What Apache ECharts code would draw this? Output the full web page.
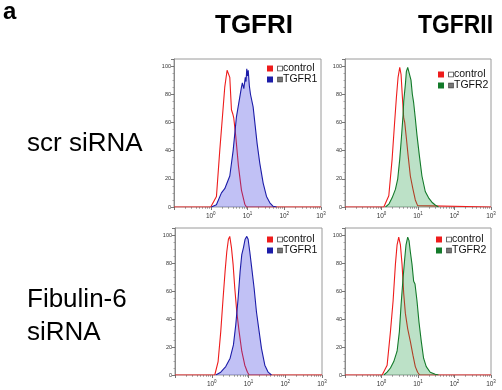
<!DOCTYPE html>
<html><head><meta charset="utf-8">
<script src="https://cdn.jsdelivr.net/npm/echarts@6/dist/echarts.min.js"></script>
<style>html,body{margin:0;padding:0;background:#fff}#c{width:502px;height:390px}</style>
</head><body><div id="c"></div>
<script>
// x values are log10(fluorescence) decades, y values are % of max
const xTickDecades = [-1, 0, 1, 2, 3];
const yTicks = [0, 20, 40, 60, 80, 100];
const columnTitles = ['TGFRI', 'TGFRII'];
const rowTitles = ['scr siRNA', 'Fibulin-6\nsiRNA'];
const sampleNames = ['TGFR1', 'TGFR2'];

const tlControl = [[-1,0],[0.0,0],[0.155,7.5],[0.245,40],[0.318,64],[0.381,85],[0.445,97],[0.472,98],[0.518,92],[0.563,69],[0.600,66],[0.627,63],[0.681,50],[0.754,29],[0.835,12],[0.926,2],[0.972,0],[3,0]];
const tlSample = [[0.018,0],[0.154,1.6],[0.291,10],[0.381,13],[0.518,22],[0.609,40],[0.699,64],[0.790,78],[0.836,85],[0.86,88],[0.90,84],[0.94,92],[0.96,89],[0.98,98],[1.0,93],[1.02,97],[1.05,86],[1.081,80],[1.153,71],[1.199,60],[1.262,45],[1.335,31],[1.426,17],[1.517,7.5],[1.608,3],[1.698,0.5],[1.789,0]];
const trControl = [[-1,0],[0.064,0],[0.200,8],[0.291,34],[0.354,58],[0.409,78],[0.454,92],[0.500,99],[0.536,94],[0.572,78],[0.609,63],[0.636,60],[0.681,49],[0.727,37],[0.790,22],[0.863,12.5],[0.926,5],[0.990,1],[1.026,0],[3,0]];
const trSample = [[0.109,0],[0.200,2],[0.291,6.5],[0.381,12.5],[0.445,20],[0.500,34],[0.545,49],[0.590,65],[0.609,75],[0.654,87],[0.681,96],[0.718,99],[0.772,99],[0.808,90],[0.845,80],[0.881,74],[0.926,63],[0.972,51],[1.035,37],[1.108,22],[1.199,11],[1.290,6.5],[1.381,3.4],[1.471,1.4],[1.562,0]];
const blControl = [[-1,0],[0.082,0],[0.173,9.6],[0.245,31],[0.309,55],[0.363,74],[0.409,88],[0.454,97],[0.490,99],[0.536,91],[0.581,79],[0.627,62],[0.681,45],[0.745,31],[0.817,17],[0.899,7],[0.972,2],[1.017,0],[3,0]];
const blSample = [[0.109,0],[0.245,2],[0.381,6],[0.500,12],[0.590,21.5],[0.654,36],[0.718,55],[0.772,74],[0.817,86],[0.863,91],[0.908,97],[0.954,99],[0.990,97],[1.035,88],[1.090,76],[1.153,62],[1.217,45],[1.290,31],[1.353,19],[1.444,7],[1.535,2],[1.626,0]];
const brControl = [[-1,0],[0.018,0],[0.154,7],[0.245,31],[0.318,53],[0.381,79],[0.427,93],[0.472,98.5],[0.518,93],[0.563,79],[0.609,58],[0.654,44],[0.718,33],[0.790,24],[0.863,14],[0.926,6],[0.990,2],[1.045,0],[3,0]];
const brSample = [[0.064,0],[0.154,2],[0.245,5],[0.336,9.6],[0.427,17],[0.490,31],[0.536,50],[0.590,69],[0.636,83],[0.672,93],[0.718,98.5],[0.754,96],[0.790,88],[0.836,79],[0.881,67],[0.918,65],[0.972,53],[1.026,38],[1.090,24],[1.153,12],[1.226,6],[1.335,2],[1.471,0.5],[1.562,0]];

const panels = [
  {control: tlControl, sample: tlSample, name: sampleNames[0], grid: {left:174, top:59, width:147, height:148}, legend: {left:267, top:63}},
  {control: trControl, sample: trSample, name: sampleNames[1], grid: {left:345, top:59, width:146, height:148}, legend: {left:438, top:69}},
  {control: blControl, sample: blSample, name: sampleNames[0], grid: {left:175, top:228, width:147, height:147}, legend: {left:267, top:234}},
  {control: brControl, sample: brSample, name: sampleNames[1], grid: {left:345, top:228, width:146, height:147}, legend: {left:436, top:234}}
];
const colors = {control:'#ee1c1c', TGFR1:'#1c1ca8', TGFR2:'#137a2a'};
const fills = {TGFR1:'rgba(60,60,225,0.45)', TGFR2:'rgba(26,154,64,0.42)'};

// minor log ticks (2..9 in each decade)
const minorTicks = [];
for (let d = -1; d < 3; d++) for (let k = 2; k <= 9; k++) minorTicks.push(d + Math.log10(k));

const grid = [], xAxis = [], yAxis = [], series = [], legend = [];
panels.forEach((p, i) => {
  grid.push(Object.assign({show:true, borderColor:'#9a9a9a', borderWidth:1, containLabel:false}, p.grid));
  xAxis.push({type:'value', gridIndex:i, min:-1, max:3, interval:1,
    axisLine:{show:false, onZero:false}, splitLine:{show:false},
    axisTick:{show:true, length:3, lineStyle:{color:'#555', width:0.8}},
    axisLabel:{margin:4, formatter: v => v < 0 ? '' : '{b|10}{s|' + v + '}',
      rich:{b:{fontSize:6.5, color:'#333', fontFamily:'Liberation Sans', lineHeight:9, verticalAlign:'bottom'},
            s:{fontSize:4.5, color:'#333', fontFamily:'Liberation Sans', lineHeight:5, verticalAlign:'top'}}}});
  yAxis.push({type:'value', gridIndex:i, min:0, max:105, interval:20,
    axisLine:{show:true, onZero:false, lineStyle:{color:'#8a8a8a', width:1}}, splitLine:{show:false},
    axisTick:{show:true, length:3, lineStyle:{color:'#555', width:0.8}},
    minorTick:{show:true, splitNumber:4, length:1.5, lineStyle:{color:'#777', width:0.6}},
    axisLabel:{margin:3, fontSize:5.5, color:'#333', fontFamily:'Liberation Sans',
      formatter: v => yTicks.indexOf(v) >= 0 ? String(v) : ''}});
  series.push({type:'line', name:'control', xAxisIndex:i, yAxisIndex:i, data:p.control,
    showSymbol:false, symbol:'none', lineStyle:{color:colors.control, width:1.1}, itemStyle:{color:colors.control}, z:2});
  series.push({type:'line', name:p.name, xAxisIndex:i, yAxisIndex:i, data:p.sample,
    showSymbol:false, symbol:'none', lineStyle:{color:colors[p.name], width:1.1}, itemStyle:{color:colors[p.name]},
    areaStyle:{color:fills[p.name], origin:'start'}, z:3});
  legend.push({data:['control', p.name], left:p.legend.left, top:p.legend.top, orient:'vertical',
    icon:'rect', itemWidth:6, itemHeight:6, itemGap:0, padding:0,
    formatter: name => (name === 'control' ? '{bw| }' : '{bg| }') + '{t|' + name + '}',
    textStyle:{fontSize:10.5, color:'#111', fontFamily:'Liberation Sans', lineHeight:9,
      rich:{bw:{width:4, height:4, backgroundColor:'#fff', borderColor:'#444', borderWidth:0.8},
            bg:{width:4, height:4, backgroundColor:'#777', borderColor:'#444', borderWidth:0.8},
            t:{fontSize:10.5, color:'#111', fontFamily:'Liberation Sans', padding:[0,0,0,1], lineHeight:9}}}});
});
// overlay axes for minor log ticks
panels.forEach((p, i) => {
  xAxis.push({type:'value', gridIndex:i, min:-1, max:3, position:'bottom',
    axisLine:{show:false, onZero:false}, splitLine:{show:false}, axisLabel:{show:false},
    axisTick:{show:true, length:1.8, customValues:minorTicks, lineStyle:{color:'#666', width:0.6}}});
});

const title = [
  {text:'a', left:3, top:0, padding:0, textStyle:{fontSize:24, fontWeight:'bold', color:'#000', fontFamily:'Liberation Sans'}},
  {text:columnTitles[0], left:215, top:13, padding:0, textStyle:{fontSize:26, fontWeight:'bold', color:'#000', fontFamily:'Liberation Sans'}},
  {text:rowTitles[0], left:27, top:131, padding:0, textStyle:{fontSize:26, fontWeight:'normal', color:'#000', fontFamily:'Liberation Sans'}},
  {text:rowTitles[1], left:27, top:283, padding:0, textStyle:{fontSize:26, fontWeight:'normal', color:'#000', fontFamily:'Liberation Sans', lineHeight:33}}
];
const graphic = [
  {type:'text', x:418, y:13, scaleX:0.88, style:{text:columnTitles[1], font:'bold 26px "Liberation Sans"', fill:'#000', textVerticalAlign:'top'}}
];

const chart = echarts.init(document.getElementById('c'), null, {renderer:'canvas'});
chart.setOption({animation:false, backgroundColor:'#fff', title, graphic, grid, xAxis, yAxis, series, legend});
</script></body></html>
